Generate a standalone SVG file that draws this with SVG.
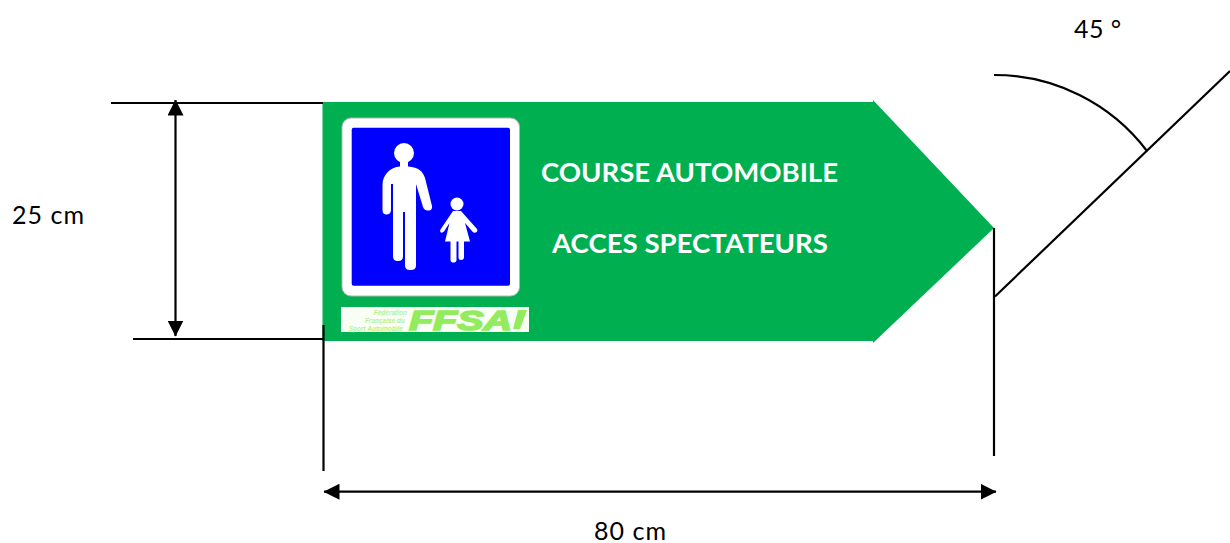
<svg xmlns="http://www.w3.org/2000/svg" width="1230" height="543" viewBox="0 0 1230 543">
<defs>
<style>
.dim{fill:none;stroke:#000;stroke-width:2.200}
.lbl{font-family:Lato,"Liberation Sans",sans-serif;font-size:25px;fill:#000}
.sign{font-family:Lato,"Liberation Sans",sans-serif;font-size:26.500px;font-weight:700;fill:#fff}
.logo{font-family:"Liberation Sans",Arial,sans-serif;font-style:italic;font-weight:700;fill:#92ec5e}
</style>
<marker id="ah" viewBox="0 0 16 16" refX="15.500" refY="8" markerWidth="16" markerHeight="16" markerUnits="userSpaceOnUse" orient="auto-start-reverse"><path d="M0 0L16 8L0 16Z" fill="#000"/></marker>
</defs>
<rect width="1230" height="543" fill="#fff"/>
<g id="panel">
<path d="M322.500 102H873V100L994 228L873 343V341H322.500Z" fill="#00b050"/>
</g>
<g id="pictogram">
<rect x="342" y="118" width="177.500" height="178" rx="9" fill="#fff" stroke="#b5b5b5" stroke-width="1"/>
<rect x="351.700" y="127.700" width="158.300" height="158" rx="2" fill="#0000ff"/>
<circle cx="404" cy="153" r="10" fill="#fff"/>
<path d="M400 160H408V166.500C419 167 423 172 425 178L432 206C432.500 210 430 210.500 428 210.500C425 210.500 424 209 423 207L416 184V265C416 269 414 270 410.500 270C407 270 405 269 405 265V212H403V256C403 260 401 261 398 261C395 261 393 260 393 256V184H391V210C391 213 389 214.500 386.500 214.500C384 214.500 382.500 213 382.500 210V185C382.500 175 390 167 400 166.500Z" fill="#fff"/>
<circle cx="457" cy="204" r="6.500" fill="#fff"/>
<path d="M453 211H461L477 229C478 231 477 232 475.500 232.500C474 233 473 232.500 472 231L465 223L470 241.500H464V257C464 259 463 260 461 260C459 260 458.500 259 458.500 257V241.500H456.500V260C456.500 262 455 262.500 453.500 262.500C452 262.500 450.500 262 450.500 260V241.500H445L449.500 223L444 231.500C443 232.500 442 233 441 232.500C440 232 440 230.500 440.500 229.500Z" fill="#fff"/>
</g>
<g id="ffsa-logo">
<rect x="341" y="307" width="188" height="25" fill="#fafff5"/>
<text class="logo" x="407" y="315" font-size="6.500" text-anchor="end" fill-opacity="0.7">Fédération</text>
<text class="logo" x="405" y="323" font-size="6.500" text-anchor="end" fill-opacity="0.7">Française du</text>
<text class="logo" x="403" y="331" font-size="6.500" text-anchor="end" fill-opacity="0.7">Sport Automobile</text>
<text class="logo" x="409" y="329.500" font-size="28" textLength="103" lengthAdjust="spacingAndGlyphs" stroke="#92ec5e" stroke-width="1.600">FFSA</text>
<path d="M518 310H527L520 329H513Z" fill="#92ec5e"/>
</g>
<g id="sign-text">
<text class="sign" x="541" y="182" textLength="297" lengthAdjust="spacingAndGlyphs">COURSE AUTOMOBILE</text>
<text class="sign" x="552" y="253" textLength="276" lengthAdjust="spacingAndGlyphs">ACCES SPECTATEURS</text>
</g>
<g id="connectors">
<path class="dim" d="M111 103H323"/>
<path class="dim" d="M133 339H323"/>
<path class="dim" d="M323.500 325V471"/>
<path class="dim" d="M994 228V456"/>
<path class="dim" d="M175.500 100V336" marker-start="url(#ah)" marker-end="url(#ah)"/>
<path class="dim" d="M324 491.700H996" marker-start="url(#ah)" marker-end="url(#ah)"/>
<path class="dim" d="M995 296.500L1230 71"/>
<path class="dim" d="M994 75A192 192 0 0 1 1147 151"/>
</g>
<g id="labels">
<text class="lbl" x="12" y="224" textLength="72" lengthAdjust="spacing">25 cm</text>
<text class="lbl" x="594" y="540" textLength="72" lengthAdjust="spacing">80 cm</text>
<text class="lbl" x="1074" y="38" textLength="47" lengthAdjust="spacing">45 °</text>
</g>
</svg>
